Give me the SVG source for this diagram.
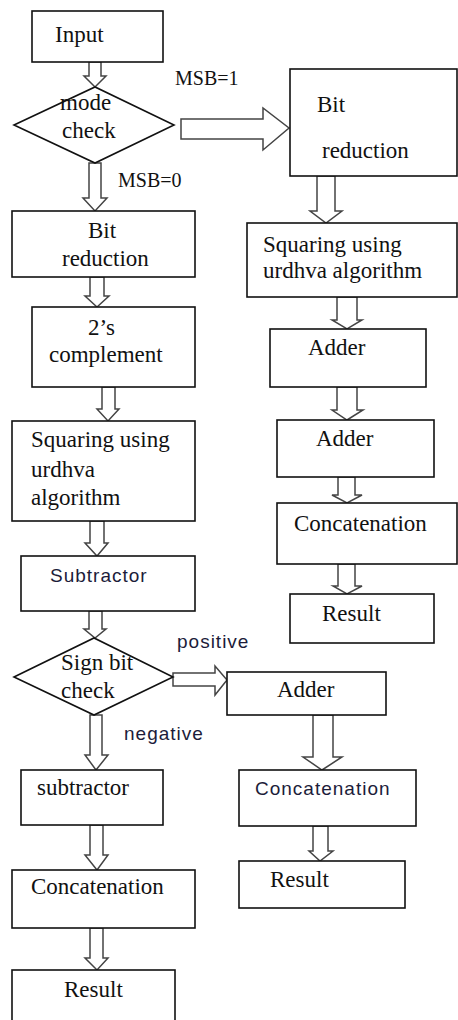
<svg xmlns="http://www.w3.org/2000/svg" width="458" height="1020" viewBox="0 0 458 1020">
<style>
.box{fill:#fff;stroke:#111;stroke-width:1.6}
.arr{fill:#fff;stroke:#444;stroke-width:1.5;stroke-linejoin:miter}
.t{font-family:'Liberation Serif','Times New Roman','DejaVu Serif',serif;font-size:23px;fill:#111}
.lbl{font-family:'Liberation Serif','Times New Roman','DejaVu Serif',serif;font-size:20px;fill:#111}
.s{font-family:'Liberation Sans',Arial,sans-serif;font-size:19px;letter-spacing:1px;fill:#1c1c3a}
</style>
<rect width="458" height="1020" fill="#fff"/>
<g id="connectors">
<path class="arr" d="M89,62 L101,62 L101,76 L106,76 L95,87 L84,76 L89,76 Z"/>
<path class="arr" d="M89,163 L101,163 L101,198 L107,198 L95,211 L83,198 L89,198 Z"/>
<path class="arr" d="M90,277 L104,277 L104,296 L109,296 L97,307 L85,296 L90,296 Z"/>
<path class="arr" d="M102,387 L115,387 L115,409 L119,409 L108,421 L97,409 L102,409 Z"/>
<path class="arr" d="M90,521 L104,521 L104,543 L108,543 L97,556 L85,543 L90,543 Z"/>
<path class="arr" d="M89,611 L102,611 L102,629 L106,629 L95,638 L84,629 L89,629 Z"/>
<path class="arr" d="M90,715 L102,715 L102,755 L108,755 L96,770 L85,755 L90,755 Z"/>
<path class="arr" d="M90,825 L103,825 L103,855 L108,855 L97,870 L85,855 L90,855 Z"/>
<path class="arr" d="M90,928 L103,928 L103,958 L108,958 L97,970 L85,958 L90,958 Z"/>
<path class="arr" d="M181,119 L263,119 L263,108 L289,128 L263,150 L263,139 L181,139 Z"/>
<path class="arr" d="M317,176 L335,176 L335,211 L342,211 L326,223 L310,211 L317,211 Z"/>
<path class="arr" d="M337,297 L357,297 L357,320 L362,320 L347,329 L332,320 L337,320 Z"/>
<path class="arr" d="M337,387 L357,387 L357,410 L363,410 L347,420 L332,410 L337,410 Z"/>
<path class="arr" d="M338,477 L355,477 L355,495 L362,495 L347,503 L332,495 L338,495 Z"/>
<path class="arr" d="M338,564 L355,564 L355,586 L362,586 L347,594 L333,586 L338,586 Z"/>
<path class="arr" d="M173,673 L215,673 L215,666 L227,680 L215,695 L215,686 L173,686 Z"/>
<path class="arr" d="M313,715 L333,715 L333,757 L342,757 L322,770 L303,757 L313,757 Z"/>
<path class="arr" d="M313,826 L328,826 L328,851 L333,851 L320,861 L309,851 L313,851 Z"/>
</g>
<g id="input"><rect class="box" x="32" y="11" width="131" height="51"/><text class="t" x="55" y="42">Input</text></g>
<g id="mode-check"><polygon class="box" points="14,125 95,87 174,125 95,163"/><text class="t" x="60" y="110">mode</text><text class="t" x="62" y="138">check</text></g>
<g id="msb1"><text class="lbl" x="175" y="85">MSB=1</text></g>
<g id="msb0"><text class="lbl" x="118" y="187">MSB=0</text></g>
<g id="bit-reduction-left"><rect class="box" x="12" y="211" width="183" height="66"/><text class="t" x="88" y="238">Bit</text><text class="t" x="62" y="266">reduction</text></g>
<g id="twos-complement"><rect class="box" x="32" y="307" width="163" height="80"/><text class="t" x="88" y="335">2’s</text><text class="t" x="49" y="362">complement</text></g>
<g id="squaring-left"><rect class="box" x="12" y="421" width="183" height="100"/><text class="t" x="31" y="447">Squaring using</text><text class="t" x="31" y="477">urdhva</text><text class="t" x="31" y="505">algorithm</text></g>
<g id="subtractor-1"><rect class="box" x="21" y="556" width="174" height="55"/><text class="s" x="50" y="582">Subtractor</text></g>
<g id="sign-bit-check"><polygon class="box" points="14,677 94,638 173,677 94,715"/><text class="t" x="61" y="670">Sign bit</text><text class="t" x="61" y="698">check</text></g>
<g id="positive"><text class="s" x="177" y="648">positive</text></g>
<g id="negative"><text class="s" x="124" y="740">negative</text></g>
<g id="subtractor-2"><rect class="box" x="21" y="770" width="142" height="55"/><text class="t" x="37" y="795">subtractor</text></g>
<g id="concat-left"><rect class="box" x="12" y="870" width="183" height="58"/><text class="t" x="31" y="894">Concatenation</text></g>
<g id="result-left"><rect class="box" x="12" y="970" width="163" height="60"/><text class="t" x="64" y="997">Result</text></g>
<g id="bit-reduction-right"><rect class="box" x="290" y="69" width="167" height="107"/><text class="t" x="317" y="112">Bit</text><text class="t" x="322" y="158">reduction</text></g>
<g id="squaring-right"><rect class="box" x="247" y="223" width="210" height="74"/><text class="t" x="263" y="252">Squaring using</text><text class="t" x="263" y="278">urdhva algorithm</text></g>
<g id="adder-r1"><rect class="box" x="270" y="329" width="156" height="58"/><text class="t" x="308" y="355">Adder</text></g>
<g id="adder-r2"><rect class="box" x="277" y="420" width="157" height="57"/><text class="t" x="316" y="446">Adder</text></g>
<g id="concat-right"><rect class="box" x="277" y="503" width="180" height="61"/><text class="t" x="294" y="531">Concatenation</text></g>
<g id="result-right"><rect class="box" x="290" y="594" width="144" height="49"/><text class="t" x="322" y="621">Result</text></g>
<g id="adder-lower"><rect class="box" x="227" y="672" width="159" height="43"/><text class="t" x="277" y="697">Adder</text></g>
<g id="concat-lower"><rect class="box" x="239" y="770" width="177" height="56"/><text class="s" x="255" y="795">Concatenation</text></g>
<g id="result-lower"><rect class="box" x="239" y="861" width="166" height="47"/><text class="t" x="270" y="887">Result</text></g>
</svg>
